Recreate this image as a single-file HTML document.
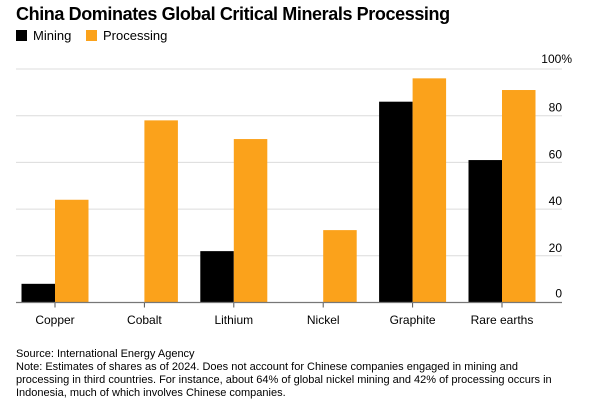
<!DOCTYPE html>
<html><head><meta charset="utf-8"><style>
body{margin:0;width:602px;height:413px;background:#fff;font-family:"Liberation Sans",sans-serif;overflow:hidden}
svg{display:block}
</style></head><body>
<svg width="602" height="413">
<text x="16" y="20" font-size="18" font-weight="bold" fill="#000" style="letter-spacing:-0.4px">China Dominates Global Critical Minerals Processing</text>
<g>
<rect x="16" y="30" width="11" height="11" fill="#000"/>
<text x="33" y="40" font-size="13">Mining</text>
<rect x="86" y="30" width="11" height="11" fill="#fba21b"/>
<text x="103" y="40" font-size="13">Processing</text>
</g>
<g id="plot"></g>
<g font-size="11" fill="#000">
<text x="16" y="357">Source: International Energy Agency</text>
<text x="16" y="370">Note: Estimates of shares as of 2024. Does not account for Chinese companies engaged in mining and</text>
<text x="16" y="383">processing in third countries. For instance, about 64% of global nickel mining and 42% of processing occurs in</text>
<text x="16" y="396">Indonesia, much of which involves Chinese companies.</text>
</g>
</svg>
<script>
const categories=["Copper","Cobalt","Lithium","Nickel","Graphite","Rare earths"];
const mining=[8,0,22,0,86,61];
const processing=[44,78,70,31,96,91];
const ticks=[0,20,40,60,80,100];
const NS="http://www.w3.org/2000/svg";
const g=document.getElementById('plot');
const x0=16,x1=562,yb=302.5,yt=69;
const y=v=>yb-(yb-yt)*v/100;
const cx=i=>55+i*89.4;
const bw=33.5;
function mk(t,a){const e=document.createElementNS(NS,t);for(const k in a)e.setAttribute(k,a[k]);g.appendChild(e);return e;}
ticks.forEach(t=>{
 if(t>0){const l=mk('line',{x1:x0,x2:x1,y1:y(t),y2:y(t),stroke:'#dcdcdc','stroke-width':1});
 
 }
 const tx=mk('text',{x:t===100?572:562,y:y(t)-(t===0?5:t===100?6:4),'font-size':12,'text-anchor':'end'});
 tx.textContent=t===100?'100%':String(t);
 
 
});
categories.forEach((c,i)=>{
 if(mining[i]>0){const r=mk('rect',{x:cx(i)-bw,y:y(mining[i]),width:bw,height:yb-y(mining[i]),fill:'#000'});
 
 }
 const p=mk('rect',{x:cx(i),y:y(processing[i]),width:bw,height:yb-y(processing[i]),fill:'#fba21b'});
 
 
 const tk=mk('line',{x1:cx(i),x2:cx(i),y1:yb,y2:yb+5,stroke:'#555'});
 
 
 const lb=mk('text',{x:cx(i),y:324,'font-size':12,'text-anchor':'middle'});
 lb.textContent=c;
 
 
});
const ax=mk('line',{x1:x0,x2:x1,y1:yb,y2:yb,stroke:'#777','stroke-width':1.2});


</script>
</body></html>
